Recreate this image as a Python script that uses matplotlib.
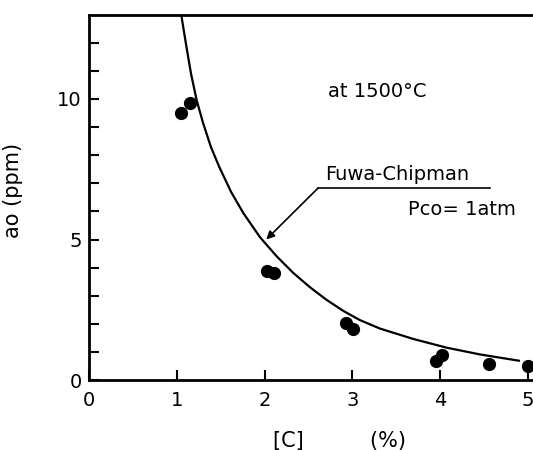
import matplotlib
matplotlib.use("Agg")
import matplotlib.pyplot as plt

# Fuwa-Chipman curve
curve_c = [1.049, 1.106, 1.163, 1.228, 1.30, 1.39, 1.485, 1.62, 1.759, 1.949,
           2.139, 2.328, 2.518, 2.708, 2.897, 3.088, 3.315, 3.695, 4.075,
           4.454, 4.91]
curve_ao = [13.05, 11.95, 10.90, 9.95, 9.15, 8.29, 7.58, 6.69, 5.94, 5.08,
            4.40, 3.81, 3.30, 2.85, 2.46, 2.13, 1.83, 1.46, 1.15,
            0.91, 0.68]

# measured points
meas_c = [1.045, 1.155, 2.032, 2.108, 2.928, 3.004, 3.953, 4.02, 4.56, 5.005]
meas_ao = [9.5, 9.84, 3.89, 3.82, 2.02, 1.80, 0.68, 0.89, 0.57, 0.51]

xticks = [0, 1, 2, 3, 4, 5]
xticklabels = ["0", "1", "2", "3", "4", "5"]
yticks_major = [0, 5, 10]
yticks_minor = [1, 2, 3, 4, 6, 7, 8, 9, 11, 12]

fig = plt.figure(figsize=(5.33, 4.5), dpi=100)
W, H = 533, 450
x0px, y0px = 88.9, 380.0
sx, sy = 87.8, 28.1
xmax = 5.4
ymax = 13.0
left = x0px / W
bottom = 1 - y0px / H
width = xmax * sx / W
height = ymax * sy / H
ax = fig.add_axes([left, bottom, width, height])
ax.set_xlim(0, xmax)
ax.set_ylim(0, ymax)

ax.plot(curve_c, curve_ao, color="black", lw=1.6, solid_capstyle="butt",
        solid_joinstyle="round")
ax.plot(meas_c, meas_ao, "o", color="black", ms=8.5, clip_on=False)

for s in ["left", "bottom", "top"]:
    ax.spines[s].set_linewidth(2.0)
ax.spines["right"].set_visible(False)

ax.set_xticks(xticks)
ax.set_xticklabels(xticklabels)
ax.set_yticks(yticks_major)
ax.set_yticks(yticks_minor, minor=True)
ax.tick_params(axis="both", which="both", direction="in", length=7, width=1.5,
               labelsize=14)
ax.tick_params(axis="x", pad=8)
ax.tick_params(axis="y", pad=5)

ax.set_xlabel("[C]          (%)", fontsize=15)
ax.xaxis.set_label_coords((339 - x0px) / (xmax * sx), -(441 - y0px) / (ymax * sy))
ax.xaxis.label.set_verticalalignment("center")
ax.set_ylabel("ao (ppm)", fontsize=15)
ax.yaxis.set_label_coords(-(x0px - 23) / (xmax * sx), (y0px - 190) / (ymax * sy))
ax.yaxis.label.set_horizontalalignment("center")

ax.text(3.28, 10.28, "at 1500°C", fontsize=14, ha="center", va="center")
ax.text(2.69, 7.12, "Fuwa-Chipman", fontsize=14, ha="left", va="baseline")
ax.plot([2.61, 4.57], [6.83, 6.83], color="black", lw=1.2)
ax.annotate("", xy=(2.02, 5.0), xytext=(2.61, 6.83),
            arrowprops=dict(arrowstyle="-|>", color="black", lw=1.2,
                            mutation_scale=12, shrinkA=0, shrinkB=0))
ax.text(3.64, 5.87, "Pco= 1atm", fontsize=14, ha="left", va="baseline")

fig.savefig("out.png", dpi=100)
